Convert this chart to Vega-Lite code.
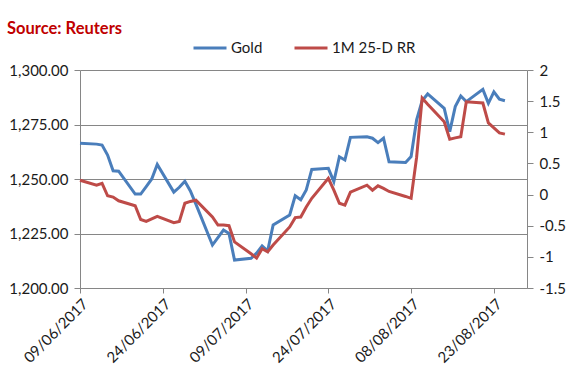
{
  "$schema": "https://vega.github.io/schema/vega-lite/v6.json",
  "width": 447,
  "height": 218,
  "autosize": {"type": "none"},
  "padding": {"left": 80, "top": 70, "right": 55, "bottom": 100},
  "background": "white",
  "title": {
    "text": "Source: Reuters",
    "color": "#c00000",
    "font": "Lato",
    "fontSize": 16.5,
    "fontWeight": "bold",
    "anchor": "start",
    "frame": "group",
    "dx": -73,
    "offset": 30,
    "dy": 37
  },
  "datasets": {
    "gold": [
      {"date": "2017-06-09", "value": 1266.4},
      {"date": "2017-06-12", "value": 1266.0},
      {"date": "2017-06-13", "value": 1265.6},
      {"date": "2017-06-14", "value": 1261.0},
      {"date": "2017-06-15", "value": 1253.8},
      {"date": "2017-06-16", "value": 1253.6},
      {"date": "2017-06-19", "value": 1243.1},
      {"date": "2017-06-20", "value": 1243.1},
      {"date": "2017-06-21", "value": 1246.5},
      {"date": "2017-06-22", "value": 1250.0},
      {"date": "2017-06-23", "value": 1256.7},
      {"date": "2017-06-26", "value": 1244.0},
      {"date": "2017-06-27", "value": 1246.2},
      {"date": "2017-06-28", "value": 1249.0},
      {"date": "2017-06-29", "value": 1244.5},
      {"date": "2017-06-30", "value": 1238.5},
      {"date": "2017-07-03", "value": 1219.7},
      {"date": "2017-07-05", "value": 1226.6},
      {"date": "2017-07-06", "value": 1225.0},
      {"date": "2017-07-07", "value": 1212.8},
      {"date": "2017-07-10", "value": 1213.6},
      {"date": "2017-07-11", "value": 1216.0},
      {"date": "2017-07-12", "value": 1219.3},
      {"date": "2017-07-13", "value": 1217.0},
      {"date": "2017-07-14", "value": 1228.9},
      {"date": "2017-07-17", "value": 1233.5},
      {"date": "2017-07-18", "value": 1242.3},
      {"date": "2017-07-19", "value": 1240.5},
      {"date": "2017-07-20", "value": 1245.0},
      {"date": "2017-07-21", "value": 1254.4},
      {"date": "2017-07-24", "value": 1254.9},
      {"date": "2017-07-25", "value": 1248.8},
      {"date": "2017-07-26", "value": 1260.2},
      {"date": "2017-07-27", "value": 1258.7},
      {"date": "2017-07-28", "value": 1269.1},
      {"date": "2017-07-31", "value": 1269.4},
      {"date": "2017-08-01", "value": 1268.7},
      {"date": "2017-08-02", "value": 1266.7},
      {"date": "2017-08-03", "value": 1268.7},
      {"date": "2017-08-04", "value": 1257.9},
      {"date": "2017-08-07", "value": 1257.6},
      {"date": "2017-08-08", "value": 1260.3},
      {"date": "2017-08-09", "value": 1277.1},
      {"date": "2017-08-10", "value": 1285.9},
      {"date": "2017-08-11", "value": 1289.0},
      {"date": "2017-08-14", "value": 1282.4},
      {"date": "2017-08-15", "value": 1271.7},
      {"date": "2017-08-16", "value": 1283.2},
      {"date": "2017-08-17", "value": 1288.1},
      {"date": "2017-08-18", "value": 1285.5},
      {"date": "2017-08-21", "value": 1291.1},
      {"date": "2017-08-22", "value": 1284.7},
      {"date": "2017-08-23", "value": 1290.0},
      {"date": "2017-08-24", "value": 1286.6},
      {"date": "2017-08-25", "value": 1285.9}
    ],
    "rr": [
      {"date": "2017-06-09", "value": 0.23},
      {"date": "2017-06-12", "value": 0.15},
      {"date": "2017-06-13", "value": 0.18},
      {"date": "2017-06-14", "value": -0.02},
      {"date": "2017-06-15", "value": -0.04},
      {"date": "2017-06-16", "value": -0.10},
      {"date": "2017-06-19", "value": -0.18},
      {"date": "2017-06-20", "value": -0.40},
      {"date": "2017-06-21", "value": -0.43},
      {"date": "2017-06-22", "value": -0.39},
      {"date": "2017-06-23", "value": -0.35},
      {"date": "2017-06-26", "value": -0.45},
      {"date": "2017-06-27", "value": -0.43},
      {"date": "2017-06-28", "value": -0.14},
      {"date": "2017-06-29", "value": -0.11},
      {"date": "2017-06-30", "value": -0.09},
      {"date": "2017-07-03", "value": -0.36},
      {"date": "2017-07-04", "value": -0.49},
      {"date": "2017-07-05", "value": -0.49},
      {"date": "2017-07-06", "value": -0.50},
      {"date": "2017-07-07", "value": -0.76},
      {"date": "2017-07-10", "value": -0.95},
      {"date": "2017-07-11", "value": -1.02},
      {"date": "2017-07-12", "value": -0.87},
      {"date": "2017-07-13", "value": -0.92},
      {"date": "2017-07-14", "value": -0.81},
      {"date": "2017-07-17", "value": -0.52},
      {"date": "2017-07-18", "value": -0.37},
      {"date": "2017-07-19", "value": -0.36},
      {"date": "2017-07-20", "value": -0.20},
      {"date": "2017-07-21", "value": -0.06},
      {"date": "2017-07-24", "value": 0.26},
      {"date": "2017-07-25", "value": 0.07},
      {"date": "2017-07-26", "value": -0.14},
      {"date": "2017-07-27", "value": -0.17},
      {"date": "2017-07-28", "value": 0.04},
      {"date": "2017-07-31", "value": 0.15},
      {"date": "2017-08-01", "value": 0.07},
      {"date": "2017-08-02", "value": 0.14},
      {"date": "2017-08-03", "value": 0.10},
      {"date": "2017-08-04", "value": 0.05},
      {"date": "2017-08-07", "value": -0.03},
      {"date": "2017-08-08", "value": -0.06},
      {"date": "2017-08-09", "value": 0.60},
      {"date": "2017-08-10", "value": 1.55},
      {"date": "2017-08-11", "value": 1.45},
      {"date": "2017-08-14", "value": 1.17},
      {"date": "2017-08-15", "value": 0.89},
      {"date": "2017-08-16", "value": 0.91},
      {"date": "2017-08-17", "value": 0.93},
      {"date": "2017-08-18", "value": 1.49},
      {"date": "2017-08-21", "value": 1.47},
      {"date": "2017-08-22", "value": 1.15},
      {"date": "2017-08-23", "value": 1.07},
      {"date": "2017-08-24", "value": 0.99},
      {"date": "2017-08-25", "value": 0.97}
    ]
  },
  "layer": [
    {
      "data": {"name": "gold"},
      "mark": {"type": "line", "strokeWidth": 3},
      "encoding": {
        "x": {
          "field": "date",
          "type": "temporal",
          "scale": {
            "type": "utc",
            "domain": [
              {"year": 2017, "month": 6, "date": 9, "utc": true},
              {"year": 2017, "month": 8, "date": 29, "utc": true}
            ]
          },
          "axis": {
            "title": null,
            "values": [
              {"year": 2017, "month": 6, "date": 9, "utc": true},
              {"year": 2017, "month": 6, "date": 24, "utc": true},
              {"year": 2017, "month": 7, "date": 9, "utc": true},
              {"year": 2017, "month": 7, "date": 24, "utc": true},
              {"year": 2017, "month": 8, "date": 8, "utc": true},
              {"year": 2017, "month": 8, "date": 23, "utc": true}
            ],
            "format": "%d/%m/%Y",
            "labelAngle": -45,
            "labelFontSize": 15,
            "labelColor": "#1a1a1a",
            "domainColor": "#868686",
            "tickColor": "#868686",
            "tickSize": 5,
            "grid": false,
            "labelPadding": 3
          }
        },
        "y": {
          "field": "value",
          "type": "quantitative",
          "scale": {"domain": [1200, 1300], "nice": false, "zero": false},
          "axis": {
            "title": null,
            "values": [1200, 1225, 1250, 1275, 1300],
            "format": ",.2f",
            "grid": true,
            "gridColor": "#868686",
            "gridOpacity": 1,
            "domainColor": "#868686",
            "tickColor": "#868686",
            "tickSize": 6,
            "labelFontSize": 15,
            "labelColor": "#1a1a1a",
            "labelPadding": 6
          }
        },
        "color": {
          "datum": "Gold",
          "scale": {"domain": ["Gold", "1M 25-D RR"], "range": ["#4a7ebb", "#be4b48"]},
          "legend": {
            "orient": "none",
            "legendX": 112,
            "legendY": -40,
            "direction": "horizontal",
            "title": null,
            "symbolType": "stroke",
            "symbolSize": 1089,
            "symbolStrokeWidth": 3,
            "labelFontSize": 15,
            "labelColor": "#1a1a1a",
            "labelOffset": 3,
            "columnPadding": 25,
            "padding": 0
          }
        }
      }
    },
    {
      "data": {"name": "rr"},
      "mark": {"type": "line", "strokeWidth": 3},
      "encoding": {
        "x": {"field": "date", "type": "temporal"},
        "y": {
          "field": "value",
          "type": "quantitative",
          "scale": {"domain": [-1.5, 2], "nice": false, "zero": false},
          "axis": {
            "title": null,
            "orient": "right",
            "values": [-1.5, -1, -0.5, 0, 0.5, 1, 1.5, 2],
            "labelExpr": "datum.value < 0 ? '-' + format(-datum.value, '~g') : format(datum.value, '~g')",
            "grid": false,
            "domainColor": "#868686",
            "tickColor": "#868686",
            "tickSize": 6,
            "labelFontSize": 15,
            "labelColor": "#1a1a1a",
            "labelPadding": 6
          }
        },
        "color": {"datum": "1M 25-D RR"}
      }
    }
  ],
  "resolve": {"scale": {"y": "independent"}},
  "config": {
    "view": {"stroke": null},
    "font": "Lato",
    "axis": {"labelFont": "Lato"},
    "legend": {"labelFont": "Lato"}
  }
}
